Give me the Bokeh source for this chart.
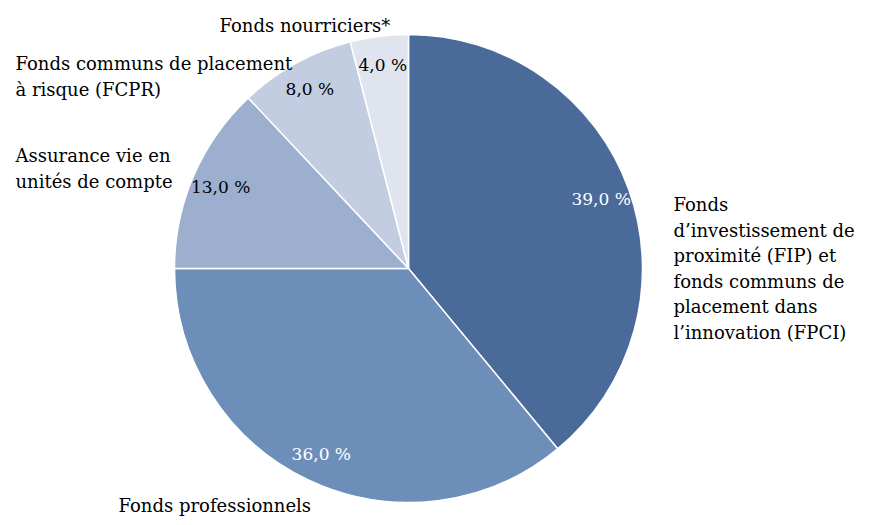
import math
from bokeh.plotting import figure
from bokeh.models import Range1d, ColumnDataSource
from bokeh.core.properties import value
from bokeh.embed import file_html
from bokeh.resources import INLINE

categories = [
    "Fonds d’investissement de proximité (FIP) et fonds communs de placement dans l’innovation (FPCI)",
    "Fonds professionnels",
    "Assurance vie en unités de compte",
    "Fonds communs de placement à risque (FCPR)",
    "Fonds nourriciers*",
]
shares = [39.0, 36.0, 13.0, 8.0, 4.0]
pct_labels = ["39,0 %", "36,0 %", "13,0 %", "8,0 %", "4,0 %"]
colors = ["#4a6b9a", "#6e8eba", "#9cafcf", "#c3cde1", "#dfe4ef"]
pct_colors = ["white", "white", "black", "black", "black"]

W, H = 868, 517
FONT = value("DejaVu Serif")

p = figure(width=W, height=H, output_backend="svg", toolbar_location=None,
           x_range=Range1d(0, W), y_range=Range1d(525 - H, 525),
           min_border=0, outline_line_color=None)
p.axis.visible = False
p.grid.visible = False
p.background_fill_color = "white"
p.border_fill_color = "white"

cx, cy, R = 408, 525 - 268, 234
total = sum(shares)
starts, ends, lx, ly = [], [], [], []
cum = 0.0
for s in shares:
    a0 = math.pi / 2 - 2 * math.pi * cum / total
    a1 = math.pi / 2 - 2 * math.pi * (cum + s) / total
    starts.append(a0)
    ends.append(a1)
    mid = (a0 + a1) / 2
    lx.append(cx + 0.875 * R * math.cos(mid))
    ly.append(cy + 0.875 * R * math.sin(mid))
    cum += s

src = ColumnDataSource(dict(start=starts, end=ends, color=colors, lab=pct_labels,
                            lx=lx, ly=ly, tc=pct_colors))
p.wedge(x=cx, y=cy, radius=R, start_angle="start", end_angle="end", direction="clock",
        fill_color="color", line_color="white", line_width=1.5, source=src)
p.text(x="lx", y="ly", text="lab", text_color="tc", text_font=FONT, text_font_size="17px",
       text_align="center", text_baseline="middle", source=src)

# category labels (lines, baseline positions in screen px)
label_lines = [
    (673, [204, 229.5, 255, 280.5, 306, 331.5],
     ["Fonds", "d’investissement de", "proximité (FIP) et", "fonds communs de",
      "placement dans", "l’innovation (FPCI)"]),
    (118, [505], ["Fonds professionnels"]),
    (15, [155, 180.5], ["Assurance vie en", "unités de compte"]),
    (15, [63, 88.5], ["Fonds communs de placement", "à risque (FCPR)"]),
    (219, [25], ["Fonds nourriciers*"]),
]
for x0, ys, lines in label_lines:
    p.text(x=[x0] * len(lines), y=[525 - y for y in ys], text=lines, text_color="black",
           text_font=FONT, text_font_size="18px", text_align="left",
           text_baseline="alphabetic")

open("out.html", "w").write(file_html(p, INLINE))
